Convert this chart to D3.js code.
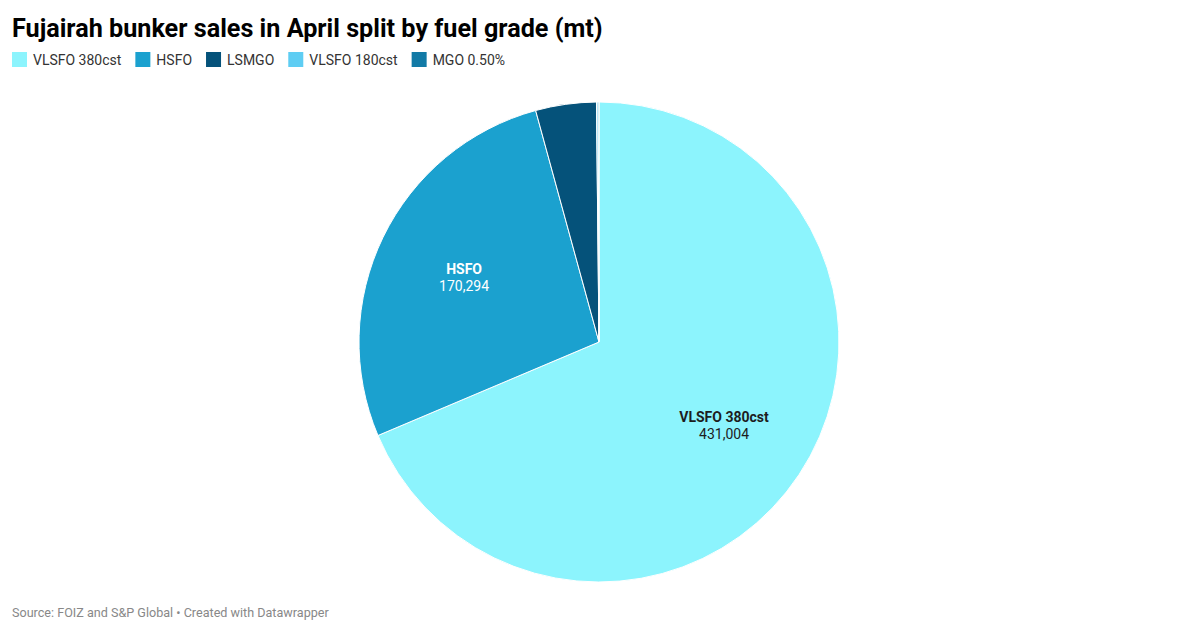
<!DOCTYPE html>
<html><head><meta charset="utf-8">
<script src="https://cdn.jsdelivr.net/npm/d3@7"></script>
<style>
body{margin:0;background:#fff;font-family:Roboto,"Noto Sans",sans-serif;}
svg{display:block;}
</style></head>
<body>
<svg id="c" width="1200" height="632"></svg>
<script>
const categories = ["VLSFO 380cst","HSFO","LSMGO","VLSFO 180cst","MGO 0.50%"];
const values = [431004,170294,25650,700,350];
const colors = ["#8cf4fd","#1ba1cf","#05527a","#5ecdf3","#127aa6"];
const labeled = [true,true,false,false,false];
const labelColors = ["#1d1d1d","#ffffff"];

const svg = d3.select("#c");
svg.append("text").attr("x",12).attr("y",37)
  .style("font-family","Roboto").style("font-weight","700").style("font-size","25.2px")
  .attr("fill","#000").text("Fujairah bunker sales in April split by fuel grade (mt)");

// legend
let lx = 12;
const lg = svg.append("g");
categories.forEach((c,i)=>{
  lg.append("rect").attr("x",lx).attr("y",52).attr("width",15).attr("height",15).attr("fill",colors[i]);
  const t = lg.append("text").attr("x",lx+21).attr("y",65).style("font-size","14px").attr("fill","#333").text(c);
  lx += 21 + t.node().getComputedTextLength() + 14;
});

// pie
const cx = 599, cy = 342, r = 240;
const pie = d3.pie().sort(null).value(d=>d)(values);
const arc = d3.arc().innerRadius(0).outerRadius(r);
const labelArc = d3.arc().innerRadius(150).outerRadius(150);
const g = svg.append("g").attr("transform",`translate(${cx},${cy})`);
g.selectAll("path").data(pie).join("path")
  .attr("d",arc).attr("fill",(d,i)=>colors[i])
  .attr("stroke","#fff").attr("stroke-width",1);

const nf = d3.format(",");
pie.forEach((d,i)=>{
  if(!labeled[i]) return;
  const [x,y] = labelArc.centroid(d);
  const col = i===0 ? labelColors[0] : labelColors[1];
  g.append("text").attr("x",x).attr("y",y-3).attr("text-anchor","middle")
    .style("font-size","14px").style("font-weight","700").attr("fill",col).text(categories[i]);
  g.append("text").attr("x",x).attr("y",y+14).attr("text-anchor","middle")
    .style("font-size","14px").attr("fill",col).text(nf(values[i]));
});

svg.append("text").attr("x",12).attr("y",617).style("font-size","12.6px").attr("fill","#888")
  .text("Source: FOIZ and S&P Global • Created with Datawrapper");
</script>
</body></html>
